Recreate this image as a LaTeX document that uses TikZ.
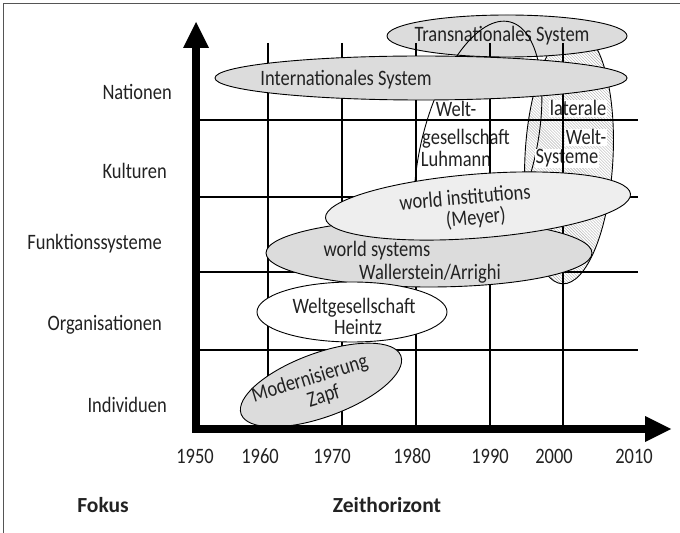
\documentclass[tikz,border=0pt]{standalone}
\usepackage{fontspec}
\setmainfont{Carlito}[FakeStretch=0.84]
\newfontfamily\boldwide{Carlito}[FakeStretch=1.0]
\usetikzlibrary{shapes.geometric,patterns}
\definecolor{ellgray}{HTML}{DCDCDC}
\definecolor{ellight}{HTML}{EEEEEE}
\definecolor{txt}{HTML}{222222}
\definecolor{framec}{HTML}{555555}
\begin{document}
\begin{tikzpicture}[x=1bp,y=-1bp,
  font=\fontsize{22bp}{21bp}\selectfont,
  ell/.style={ellipse, draw=black, line width=0.9bp, inner sep=0pt},
  lbl/.style={inner sep=0pt, anchor=base, text=txt},
  wlbl/.style={lbl, fill=white, inner sep=0.6bp},
  mlbl/.style={inner sep=0pt, text=txt, align=center},
  blbl/.style={lbl, font=\boldwide\fontsize{21.5bp}{24bp}\selectfont\bfseries},
  gridline/.style={line width=1.9bp, black},
  axisfill/.style={fill=black}]
\useasboundingbox (0,0) rectangle (680,533);
\fill[white] (0,0) rectangle (680,533);
% frame
\draw[line width=1.3bp, framec] (3.5,533) -- (3.5,3.5) -- (680,3.5);

% hatched ellipse (laterale Welt-Systeme)
\node[ell, pattern=north west lines, pattern color=gray!60, minimum width=88bp, minimum height=254bp, rotate=-3] (lat) at (569,157) {};
% Transnationales System
\node[ell, fill=ellgray, minimum width=240bp, minimum height=42bp] (trans) at (507,36) {};
\node[lbl] (transT) at (502,42) {Transnationales System};
% Luhmann outline
\node[ell, minimum width=114bp, minimum height=264bp, rotate=-14] (luh) at (478,150) {};
\node[lbl] (luh1) at (456,117) {Welt-};
\node[lbl] (luh2) at (466,145) {gesellschaft};
\node[lbl] (luh3) at (456,167) {Luhmann};
\node[wlbl] (lat1) at (578,116) {laterale};
\node[wlbl] (lat2) at (586,145) {Welt-};
\node[wlbl] (lat3) at (567,164) {Systeme};

% grid
\foreach \x in {268,342,416,490,563} \draw[gridline] (\x,43) -- (\x,429);
\foreach \y in {120,197,272,350} \draw[gridline] (196,\y) -- (638,\y);

% Internationales System
\node[ell, fill=ellgray, minimum width=412bp, minimum height=44bp] (intl) at (421,78) {};
\node[lbl] (intlT) at (346,86) {Internationales System};
% world systems
\node[ell, fill=ellgray, minimum width=326bp, minimum height=68bp] (ws) at (429,253) {};
\node[lbl] (ws1) at (377,257) {world systems};
\node[lbl] (ws2) at (430,279) {Wallerstein/Arrighi};
% world institutions
\node[ell, fill=ellight, minimum width=306bp, minimum height=64bp, rotate=4.5] (wi) at (478,206) {};
\node[mlbl, rotate=5] (wi1) at (466,209) {world institutions\\\hspace*{18bp}(Meyer)};
% Heintz
\node[ell, fill=white, minimum width=190bp, minimum height=60bp] (hz) at (352,312) {};
\node[mlbl] (hz1) at (354,316) {Weltgesellschaft\\\hspace*{8bp}Heintz};
% Zapf
\node[ell, fill=ellgray, minimum width=170bp, minimum height=64bp, rotate=20] (zapf) at (321,385) {};
\node[mlbl, rotate=17] (zp1) at (313,389) {Modernisierung\\\hspace*{16bp}Zapf};

% axes
\fill[axisfill] (192,433) rectangle (200,46);
\fill[axisfill] (183,48) -- (196,22) -- (209,48) -- cycle;
\fill[axisfill] (192,425) rectangle (647,433);
\fill[axisfill] (645,416) -- (671,429) -- (645,442) -- cycle;

% y labels
\node[lbl, anchor=base east] (yN) at (172,100) {Nationen};
\node[lbl, anchor=base east] (yK) at (167,179) {Kulturen};
\node[lbl, anchor=base east] (yF) at (162,250) {Funktionssysteme};
\node[lbl, anchor=base east] (yO) at (162,330) {Organisationen};
\node[lbl, anchor=base east] (yI) at (167,412) {Individuen};

% x labels
\foreach \xx/\yr in {195/1950,260/1960,332/1970,412/1980,490/1990,554/2000,634/2010}
  \node[lbl] at (\xx,463) {\yr};

\node[blbl] (fok) at (103,512) {Fokus};
\node[blbl] (zeit) at (387,512) {Zeithorizont};
\end{tikzpicture}
\end{document}
